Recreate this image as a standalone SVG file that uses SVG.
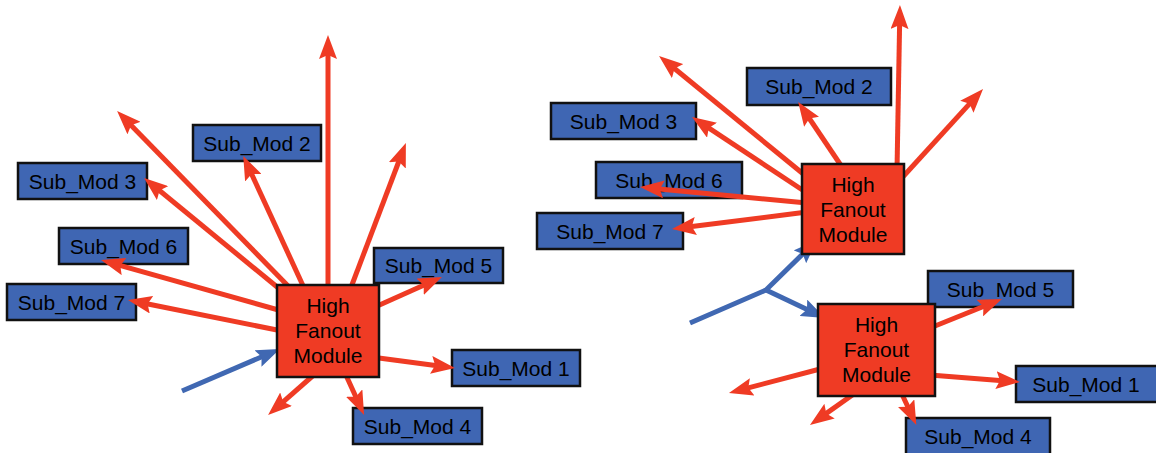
<svg xmlns="http://www.w3.org/2000/svg" width="1156" height="453" viewBox="0 0 1156 453">
<style>
.sub rect{fill:#3F66B3;stroke:#111;stroke-width:2.5}
.hfm rect{fill:#EF3B24;stroke:#111;stroke-width:2.5}
text{font-family:"Liberation Sans",Arial,sans-serif;font-size:21px;fill:#000;text-anchor:middle}
.r{stroke:#EF3B24;stroke-width:5;fill:none}
.b{stroke:#4068B2;stroke-width:5;fill:none}
</style>
<defs>
<marker id="ar" markerUnits="userSpaceOnUse" markerWidth="24" markerHeight="18" refX="10" refY="9" orient="auto" viewBox="0 0 24 18">
<path d="M0,0 L24,9 L0,18 L4,9 z" fill="#EF3B24"/>
</marker>
<marker id="ab" markerUnits="userSpaceOnUse" markerWidth="24" markerHeight="18" refX="10" refY="9" orient="auto" viewBox="0 0 24 18">
<path d="M0,0 L24,9 L0,18 L4,9 z" fill="#4068B2"/>
</marker>
</defs>
<g id="L_sub2" class="sub"><rect x="193" y="125" width="128" height="36"/><text x="257" y="151">Sub_Mod 2</text></g>
<g id="L_sub3" class="sub"><rect x="18" y="163" width="129" height="36"/><text x="82.5" y="189">Sub_Mod 3</text></g>
<g id="L_sub6" class="sub"><rect x="59" y="228" width="129" height="36"/><text x="123.5" y="254">Sub_Mod 6</text></g>
<g id="L_sub7" class="sub"><rect x="7" y="284" width="129" height="36"/><text x="71.5" y="310">Sub_Mod 7</text></g>
<g id="L_sub5" class="sub"><rect x="374" y="248" width="129" height="35"/><text x="438.5" y="273">Sub_Mod 5</text></g>
<g id="L_sub1" class="sub"><rect x="452" y="350" width="128" height="36"/><text x="516" y="376">Sub_Mod 1</text></g>
<g id="L_sub4" class="sub"><rect x="353" y="408" width="129" height="36"/><text x="417.5" y="434">Sub_Mod 4</text></g>
<g id="R_sub2" class="sub"><rect x="747" y="68" width="144" height="37"/><text x="819" y="94">Sub_Mod 2</text></g>
<g id="R_sub3" class="sub"><rect x="551" y="103" width="145" height="36"/><text x="623.5" y="129">Sub_Mod 3</text></g>
<g id="R_sub6" class="sub"><rect x="596" y="162" width="146" height="36"/><text x="669" y="188">Sub_Mod 6</text></g>
<g id="R_sub7" class="sub"><rect x="537" y="213" width="146" height="36"/><text x="610" y="239">Sub_Mod 7</text></g>
<g id="R_sub5" class="sub"><rect x="928" y="271" width="145" height="36"/><text x="1000.5" y="297">Sub_Mod 5</text></g>
<g id="R_sub1" class="sub"><rect x="1016" y="366" width="145" height="36"/><text x="1086" y="392">Sub_Mod 1</text></g>
<g id="R_sub4" class="sub"><rect x="906" y="418" width="144" height="37"/><text x="978" y="444">Sub_Mod 4</text></g>
<g id="connectors">
<line class="r" x1="328" y1="290" x2="328" y2="49" marker-end="url(#ar)"/>
<line class="r" x1="350" y1="290" x2="400.9" y2="156" marker-end="url(#ar)"/>
<line class="r" x1="305" y1="290" x2="249.1" y2="168.6" marker-end="url(#ar)"/>
<line class="r" x1="292" y1="290" x2="126.9" y2="120.9" marker-end="url(#ar)"/>
<line class="r" x1="282" y1="291" x2="154.9" y2="186.8" marker-end="url(#ar)"/>
<line class="r" x1="282" y1="311" x2="114.5" y2="263.8" marker-end="url(#ar)"/>
<line class="r" x1="282" y1="331" x2="141.7" y2="302.7" marker-end="url(#ar)"/>
<line class="r" x1="375" y1="307" x2="429.2" y2="282.7" marker-end="url(#ar)"/>
<line class="r" x1="375" y1="357.5" x2="441.1" y2="366.2" marker-end="url(#ar)"/>
<line class="r" x1="345" y1="373" x2="358.3" y2="402.2" marker-end="url(#ar)"/>
<line class="r" x1="316" y1="373" x2="278.6" y2="405.8" marker-end="url(#ar)"/>
<line class="b" x1="182" y1="391" x2="267.1" y2="354.5" marker-end="url(#ab)"/>
<line class="r" x1="897" y1="170" x2="899.7" y2="19" marker-end="url(#ar)"/>
<line class="r" x1="900" y1="180" x2="973.6" y2="99.4" marker-end="url(#ar)"/>
<line class="r" x1="842" y1="167" x2="806" y2="113.5" marker-end="url(#ar)"/>
<line class="r" x1="807" y1="177" x2="669.9" y2="64.8" marker-end="url(#ar)"/>
<line class="r" x1="807" y1="193" x2="703.7" y2="124.7" marker-end="url(#ar)"/>
<line class="r" x1="807" y1="203" x2="653.9" y2="188.4" marker-end="url(#ar)"/>
<line class="r" x1="807" y1="212" x2="685.9" y2="227.2" marker-end="url(#ar)"/>
<polyline class="b" points="690,323 766,290 807,249.8" marker-end="url(#ab)"/>
<line class="b" x1="766" y1="290" x2="812.4" y2="312" marker-end="url(#ab)"/>
<line class="r" x1="930" y1="328" x2="989" y2="304.3" marker-end="url(#ar)"/>
<line class="r" x1="930" y1="375" x2="1006" y2="380.9" marker-end="url(#ar)"/>
<line class="r" x1="900" y1="390" x2="910.4" y2="412.2" marker-end="url(#ar)"/>
<line class="r" x1="858" y1="391" x2="821.4" y2="416.9" marker-end="url(#ar)"/>
<line class="r" x1="822" y1="368.5" x2="742.5" y2="389.4" marker-end="url(#ar)"/>
</g>
<g id="L_hfm" class="hfm"><rect x="277" y="285" width="102" height="92"/><text x="328" y="313">High</text><text x="328" y="338">Fanout</text><text x="328" y="363">Module</text></g>
<g id="R_hfm_top" class="hfm"><rect x="802" y="164" width="102" height="90"/><text x="853" y="192">High</text><text x="853" y="217">Fanout</text><text x="853" y="242">Module</text></g>
<g id="R_hfm_bot" class="hfm"><rect x="818" y="304" width="117" height="92"/><text x="876.5" y="332">High</text><text x="876.5" y="357">Fanout</text><text x="876.5" y="382">Module</text></g>
</svg>
